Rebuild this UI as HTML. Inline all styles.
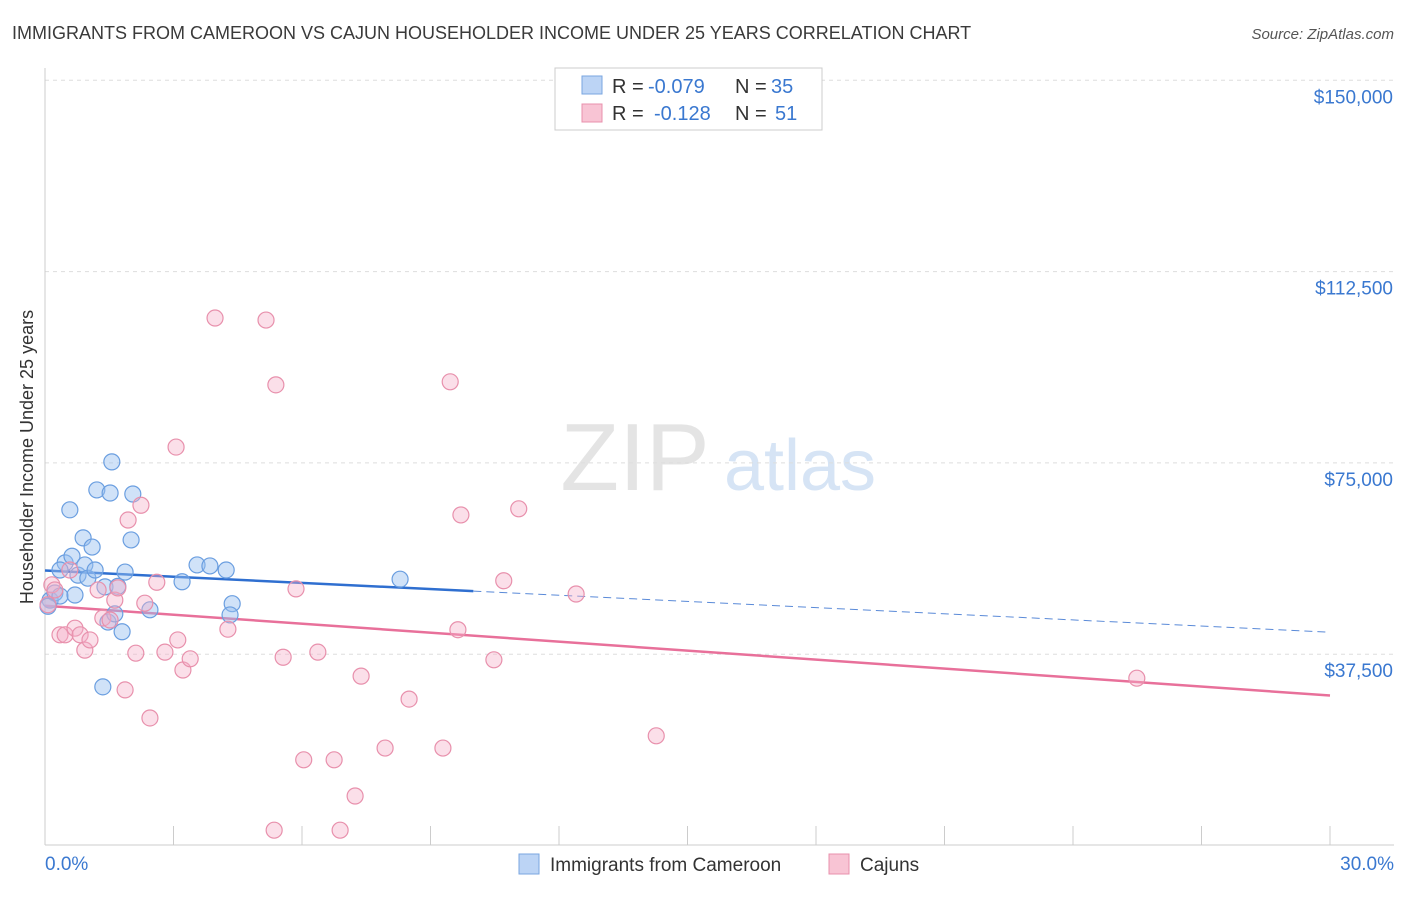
<!DOCTYPE html>
<html><head><meta charset="utf-8">
<style>
body{margin:0;background:#fff;font-family:"Liberation Sans",sans-serif;}
svg text{font-family:"Liberation Sans",sans-serif;}
</style></head>
<body>
<svg id="chart" width="1406" height="892" xmlns="http://www.w3.org/2000/svg">
<text x="12" y="39" font-size="18" fill="#3a3a3a">IMMIGRANTS FROM CAMEROON VS CAJUN HOUSEHOLDER INCOME UNDER 25 YEARS CORRELATION CHART</text>
<text x="1394" y="39" font-size="15" fill="#555" text-anchor="end" font-style="italic">Source: ZipAtlas.com</text>
<g>
<text x="635" y="490" font-size="96" fill="#e4e4e4" text-anchor="middle" font-family="Liberation Serif">ZIP</text>
<text x="800" y="490" font-size="72" fill="#d6e4f5" text-anchor="middle">atlas</text>
</g>
<g id="grid"></g>
<g id="axes"></g>
<g id="trend"></g>
<g id="points"></g>
<text transform="translate(33,457) rotate(-90)" font-size="18" fill="#333" text-anchor="middle">Householder Income Under 25 years</text>
<g>
<rect x="555" y="68" width="267" height="62" fill="#fff" stroke="#ccc"/>
<rect x="582" y="76" width="20" height="18" fill="#bcd4f5" stroke="#7aa6e0"/>
<text x="612" y="93" font-size="20" fill="#333">R = </text><text x="648" y="93" font-size="20" fill="#3a78d0">-0.079</text>
<text x="735" y="93" font-size="20" fill="#333">N = </text><text x="771" y="93" font-size="20" fill="#3a78d0">35</text>
<rect x="582" y="104" width="20" height="18" fill="#f8c4d4" stroke="#e890ac"/>
<text x="612" y="120" font-size="20" fill="#333">R = </text><text x="654" y="120" font-size="20" fill="#3a78d0">-0.128</text>
<text x="735" y="120" font-size="20" fill="#333">N = </text><text x="775" y="120" font-size="20" fill="#3a78d0">51</text>
</g>
<g>
<rect x="519" y="854" width="20" height="20" fill="#bcd4f5" stroke="#7aa6e0"/>
<text x="550" y="871" font-size="19" fill="#333">Immigrants from Cameroon</text>
<rect x="829" y="854" width="20" height="20" fill="#f8c4d4" stroke="#e890ac"/>
<text x="860" y="871" font-size="19" fill="#333">Cajuns</text>
</g>
</svg>
<script>
const yTicks=[37.5,75,112.5,150];
const yTickLabels=["$37,500","$75,000","$112,500","$150,000"];
const xTicks=[0,3,6,9,12,15,18,21,24,27,30];
const blueX=[0.12,0.23,0.07,0.35,0.47,0.58,0.63,0.70,0.77,0.89,0.93,1.00,1.10,1.17,1.21,1.40,1.47,1.52,1.56,1.63,1.70,1.80,1.87,2.01,2.05,2.45,3.20,3.55,3.85,4.23,4.37,4.32,8.29,1.35,0.35];
const blueY=[48.1,49.5,46.9,48.9,55.4,65.8,56.7,49.1,53.0,60.3,55.0,52.4,58.5,54.0,69.7,50.7,43.8,69.1,75.2,45.4,50.8,41.9,53.6,59.9,68.9,46.2,51.7,55.0,54.8,54.0,47.4,45.2,52.2,31.1,54.0];
const pinkX=[0.07,0.16,0.23,0.35,0.47,0.58,0.70,0.82,0.93,1.05,1.24,1.35,1.52,1.63,1.70,1.87,1.94,2.12,2.24,2.33,2.45,2.61,2.80,3.10,3.22,3.39,3.06,3.97,4.27,5.16,5.39,5.56,5.86,6.04,6.37,6.75,6.89,7.24,7.38,7.94,8.50,9.29,9.46,9.64,9.71,10.48,10.71,11.06,12.40,14.27,5.35,25.49];
const pinkY=[47.2,51.1,50.1,41.3,41.3,54.0,42.6,41.3,38.3,40.3,50.1,44.6,44.2,48.1,50.5,30.5,63.8,37.7,66.7,47.5,25.0,51.6,37.9,40.3,34.4,36.6,78.1,103.4,42.4,103.0,90.3,36.9,50.3,16.8,37.9,16.8,3.0,9.7,33.2,19.1,28.7,19.1,90.9,42.3,64.8,36.4,51.9,66.0,49.3,21.5,3.0,32.8];
const blueTrend=[53.9,41.8];
const pinkTrend=[47.0,29.4];
const blueSolidEnd=10;

const NS="http://www.w3.org/2000/svg";
const X=v=>45+v/30*1285;
const Y=v=>845.5-v/37.5*191.3;
function mk(tag,attrs,parent){const e=document.createElementNS(NS,tag);for(const k in attrs)e.setAttribute(k,attrs[k]);document.getElementById(parent).appendChild(e);return e;}
yTicks.forEach((t,i)=>{
  const l=mk('line',{x1:45,x2:1394,y1:Y(t),y2:Y(t),stroke:'#ddd','stroke-dasharray':'4,4'},'grid');
  
  
  const tx=mk('text',{x:1393,y:Y(t)+23,'font-size':19,fill:'#3a78d0','text-anchor':'end'},'axes');
  tx.textContent=yTickLabels[i];
  
  
});
const ax=mk('line',{x1:45,x2:45,y1:68,y2:845,stroke:'#ccc'},'axes');


const bx=mk('line',{x1:45,x2:1394,y1:845,y2:845,stroke:'#ccc'},'axes');


xTicks.forEach(t=>{
  const l=mk('line',{x1:X(t),x2:X(t),y1:826,y2:845,stroke:'#ccc'},'axes');
  
  
});
[[0,'0.0%','start',45],[30,'30.0%','end',1394]].forEach(a=>{
  const tx=mk('text',{x:a[3],y:870,'font-size':19,fill:'#3a78d0','text-anchor':a[2]},'axes');
  tx.textContent=a[1];
  
  
});
const bt=blueTrend, midY=bt[0]+(bt[1]-bt[0])*blueSolidEnd/30;
let l1=mk('line',{x1:X(0),y1:Y(bt[0]),x2:X(blueSolidEnd),y2:Y(midY),stroke:'#2f6fd0','stroke-width':2.5},'trend');


let l2=mk('line',{x1:X(blueSolidEnd),y1:Y(midY),x2:X(30),y2:Y(bt[1]),stroke:'#5a8ad8','stroke-width':1,'stroke-dasharray':'8,5'},'trend');


let l3=mk('line',{x1:X(0),y1:Y(pinkTrend[0]),x2:X(30),y2:Y(pinkTrend[1]),stroke:'#e8709a','stroke-width':2.5},'trend');


blueX.forEach((v,i)=>{
  const c=mk('circle',{cx:X(v),cy:Y(blueY[i]),r:8,fill:'rgba(150,190,240,0.45)',stroke:'#6a9ee0','stroke-width':1.2},'points');
  
  
});
pinkX.forEach((v,i)=>{
  const c=mk('circle',{cx:X(v),cy:Y(pinkY[i]),r:8,fill:'rgba(245,175,200,0.4)',stroke:'#e890ac','stroke-width':1.2},'points');
  
  
});
</script>
</body></html>
